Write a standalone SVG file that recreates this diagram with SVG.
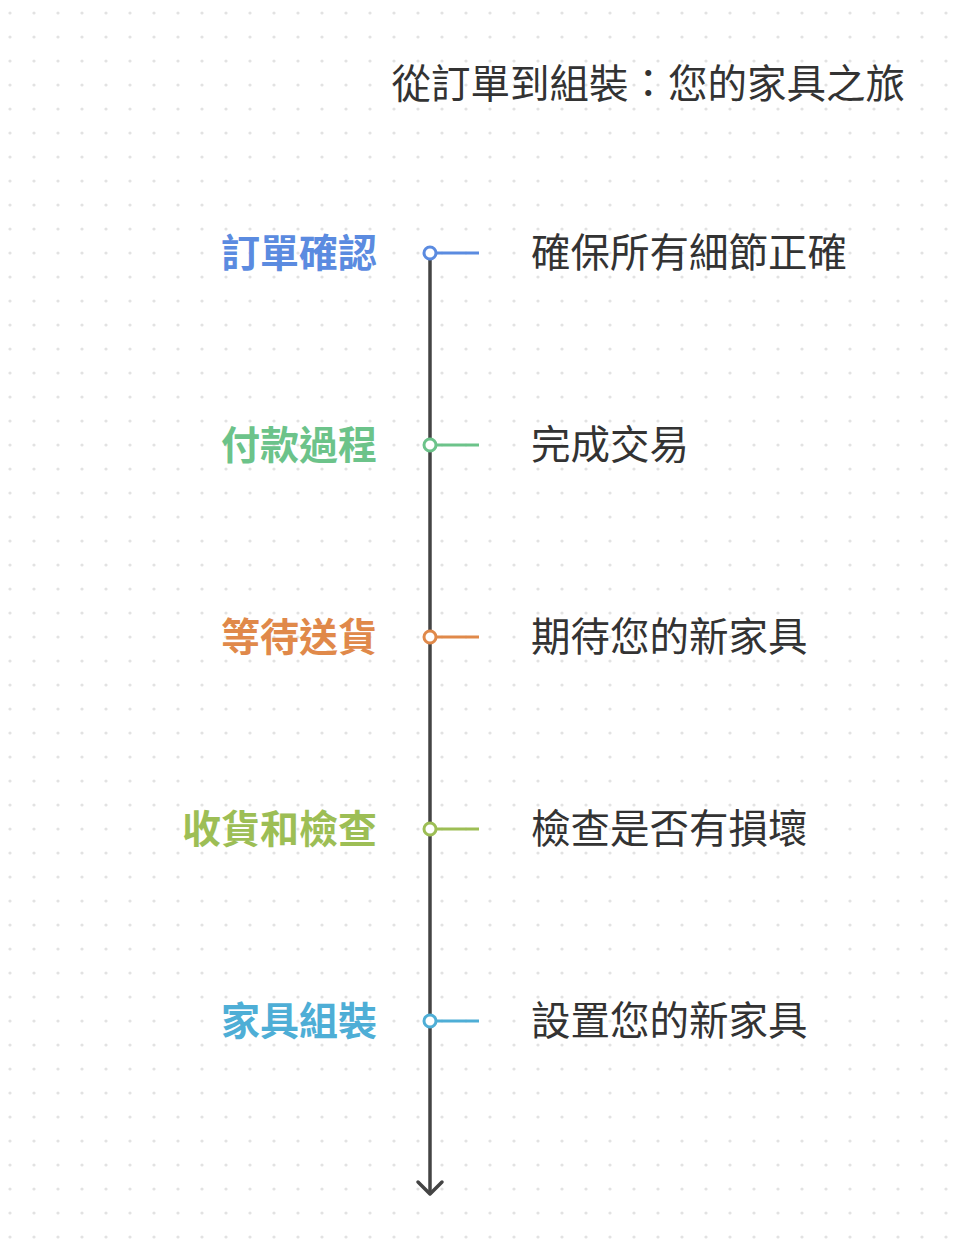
<svg xmlns="http://www.w3.org/2000/svg" width="964" height="1250" viewBox="0 0 964 1250">
<defs>
<pattern id="dots" x="0" y="0" width="24" height="24" patternUnits="userSpaceOnUse"><circle cx="10" cy="13" r="1.6" fill="#e2e2e2"/></pattern>
<style>
text{font-family:"Noto Sans CJK TC","Noto Sans CJK SC",sans-serif;}
.lab{font-size:39px;font-weight:bold;text-anchor:end;}
.desc{font-size:39.5px;fill:#333;}
.tick{stroke-width:3;fill:none;}
.dot{fill:#fff;stroke-width:3;}
</style>
</defs>
<rect width="964" height="1250" fill="#fff"/>
<rect width="964" height="1250" fill="url(#dots)"/>
<text x="905" y="98" font-size="39.5" fill="#333" text-anchor="end">從訂單到組裝：您的家具之旅</text>
<g id="connectors">
<path d="M430 253 V1194" stroke="#444" stroke-width="3.5" fill="none"/>
<path d="M418 1182 L430 1194 L442 1182" stroke="#444" stroke-width="3.5" fill="none" stroke-linecap="round" stroke-linejoin="round"/>
</g>
<g id="n1"><line class="tick" x1="430" y1="253" x2="479" y2="253" stroke="#5B8BE0"/><circle class="dot" cx="430" cy="253" r="6" stroke="#5B8BE0"/><text class="lab" x="377" y="267" fill="#5B8BE0">訂單確認</text><text class="desc" x="531" y="267">確保所有細節正確</text></g>
<g id="n2"><line class="tick" x1="430" y1="445" x2="479" y2="445" stroke="#6CC38A"/><circle class="dot" cx="430" cy="445" r="6" stroke="#6CC38A"/><text class="lab" x="377" y="459" fill="#6CC38A">付款過程</text><text class="desc" x="531" y="459">完成交易</text></g>
<g id="n3"><line class="tick" x1="430" y1="637" x2="479" y2="637" stroke="#E0894A"/><circle class="dot" cx="430" cy="637" r="6" stroke="#E0894A"/><text class="lab" x="377" y="651" fill="#E0894A">等待送貨</text><text class="desc" x="531" y="651">期待您的新家具</text></g>
<g id="n4"><line class="tick" x1="430" y1="829" x2="479" y2="829" stroke="#9DBE55"/><circle class="dot" cx="430" cy="829" r="6" stroke="#9DBE55"/><text class="lab" x="377" y="843" fill="#9DBE55">收貨和檢查</text><text class="desc" x="531" y="843">檢查是否有損壞</text></g>
<g id="n5"><line class="tick" x1="430" y1="1021" x2="479" y2="1021" stroke="#4EAED6"/><circle class="dot" cx="430" cy="1021" r="6" stroke="#4EAED6"/><text class="lab" x="377" y="1035" fill="#4EAED6">家具組裝</text><text class="desc" x="531" y="1035">設置您的新家具</text></g>
</svg>
